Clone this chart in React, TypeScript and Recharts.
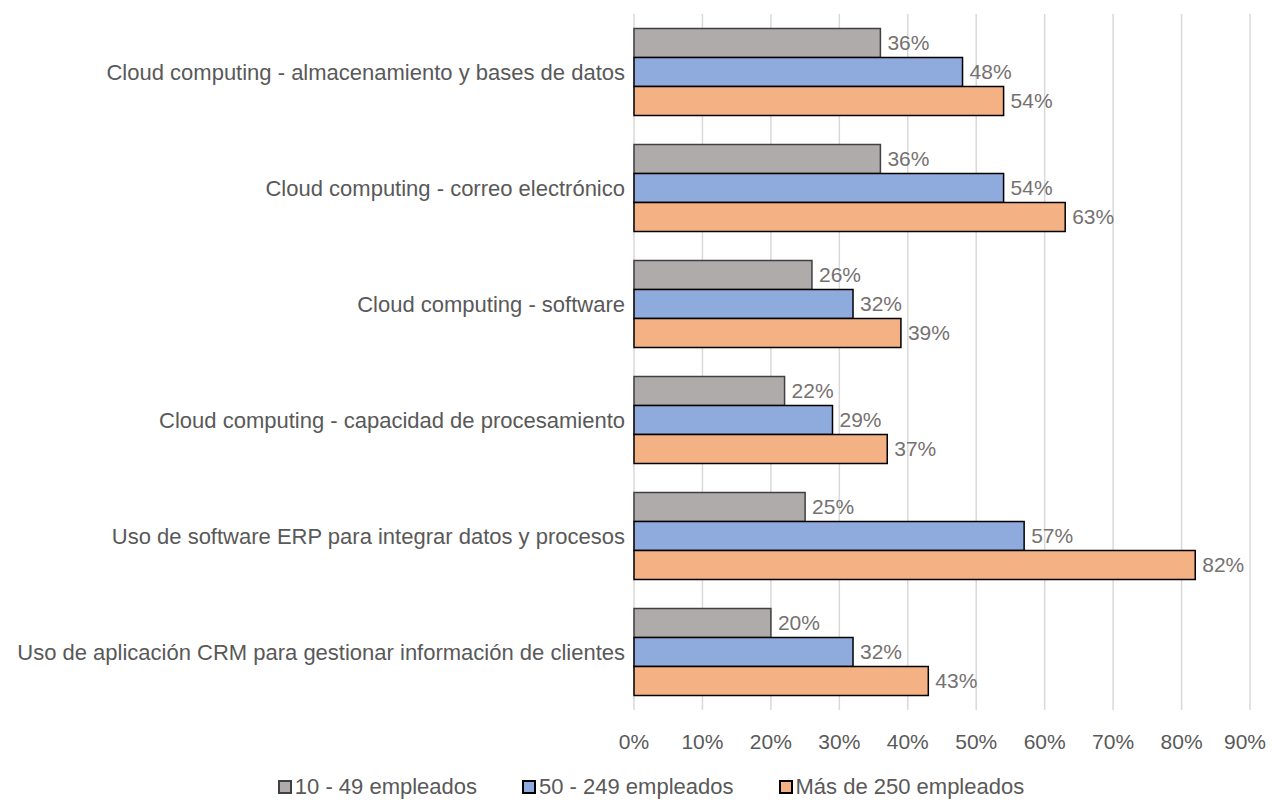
import React from 'react';
import { BarChart, Bar, XAxis, YAxis, CartesianGrid, Legend, LabelList } from 'recharts';

const categories = [
  'Cloud computing - almacenamiento y bases de datos',
  'Cloud computing - correo electrónico',
  'Cloud computing - software',
  'Cloud computing - capacidad de procesamiento',
  'Uso de software ERP para integrar datos y procesos',
  'Uso de aplicación CRM para gestionar información de clientes',
];
const small = [36, 36, 26, 22, 25, 20];
const medium = [48, 54, 32, 29, 57, 32];
const large = [54, 63, 39, 37, 82, 43];
const xTicks = [0, 10, 20, 30, 40, 50, 60, 70, 80, 90];
const seriesNames = ['10 - 49 empleados', '50 - 249 empleados', 'Más de 250 empleados'];

const data = categories.map((c, i) => ({ name: c, s: small[i], m: medium[i], l: large[i] }));

const FONT = "'Liberation Sans', Arial, sans-serif";
const TEXT = '#595959';
const LABEL = '#767171';

const colors = [
  { fill: '#AFABAB', stroke: '#404040' },
  { fill: '#8FAADC', stroke: '#000000' },
  { fill: '#F4B183', stroke: '#000000' },
];

const LegendContent = () => (
  <div style={{ display: 'flex', justifyContent: 'center', paddingLeft: 44, fontFamily: FONT, fontSize: 22, lineHeight: '26px', color: TEXT }}>
    {seriesNames.map((n, i) => (
      <div key={n} style={{ display: 'flex', alignItems: 'center', marginRight: i < 2 ? 45 : 0 }}>
        <span style={{ display: 'inline-block', width: 10, height: 10, background: colors[i].fill, border: `2px solid ${i === 0 ? '#404040' : '#000'}`, marginRight: 3 }} />
        <span>{n}</span>
      </div>
    ))}
  </div>
);

export default function App() {
  return (
    <div style={{ width: 1258, height: 795 }}>
      <BarChart
        width={1258}
        height={795}
        data={data}
        layout="vertical"
        margin={{ top: 6, right: 16, bottom: 29, left: 0 }}
        barCategoryGap="12.5%"
        barGap={0}
      >
        <CartesianGrid horizontal={false} vertical={true} stroke="#D9D9D9" strokeWidth={1.5} />
        <XAxis
          type="number"
          domain={[0, 90]}
          ticks={xTicks}
          tickFormatter={(v: number) => `${v}%`}
          axisLine={false}
          tickLine={false}
          tick={{ fill: TEXT, fontSize: 21, fontFamily: FONT }}
          tickMargin={18}
          height={38}
        />
        <YAxis
          type="category"
          dataKey="name"
          width={626}
          axisLine={false}
          tickLine={false}
          tick={{ fill: TEXT, fontSize: 22, fontFamily: FONT }}
          tickMargin={3}
        />
        <Legend verticalAlign="bottom" content={<LegendContent />} wrapperStyle={{ bottom: 3 }} />
        {(['s', 'm', 'l'] as const).map((k, i) => (
          <Bar key={k} dataKey={k} name={seriesNames[i]} fill={colors[i].fill} stroke={colors[i].stroke} strokeWidth={1.5} isAnimationActive={false}>
            <LabelList dataKey={k} position="right" offset={7} formatter={(v: number) => `${v}%`} style={{ fill: LABEL, fontSize: 21, fontFamily: FONT }} />
          </Bar>
        ))}
      </BarChart>
    </div>
  );
}
